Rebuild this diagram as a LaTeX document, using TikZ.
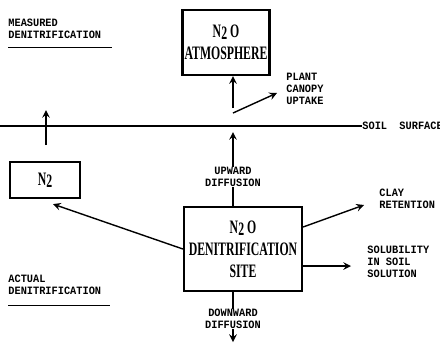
\documentclass[tikz,border=0pt]{standalone}
\usepackage{fontspec}
\setmainfont{Liberation Serif}
\newfontfamily\boxfont[FakeStretch=0.62]{Liberation Serif}
\newfontfamily\typefont[FakeStretch=0.92]{Liberation Mono}
\usetikzlibrary{arrows, positioning}

\begin{document}
\begin{tikzpicture}[
    x=0.5pt, y=-0.5pt,
    pool/.style={rectangle, draw=black, line width=1.1pt, align=center, inner sep=1pt,
        font=\boxfont\bfseries\fontsize{9.5}{11}\selectfont},
    tag/.style={align=left, inner sep=0pt, font=\typefont\bfseries\fontsize{5.6}{6}\selectfont},
    ctag/.style={tag, align=center},
    arrow/.style={line width=0.7pt,->,>=stealth},
    rule/.style={line width=0.8pt}
]
\useasboundingbox (0,0) rectangle (440,345);

% Nodes
\node (atmos) [pool, minimum width=41pt, minimum height=32.5pt] at (226,42.5) {N\raisebox{-1pt}{2}\ O\\ATMOSPHERE};
\node (site) [pool, minimum width=59pt, minimum height=42pt] at (243,249) {N\raisebox{-1pt}{2}\ O\\DENITRIFICATION\\SITE};
\node (ntwo) [pool, minimum width=35pt, minimum height=18pt] at (45,180) {N\raisebox{-1pt}{2}};

\node (measured) [tag, anchor=north west] at (8,19) {MEASURED\\DENITRIFICATION};
\node (actual) [tag, anchor=north west] at (8,275) {ACTUAL\\DENITRIFICATION};
\node (plant) [tag, anchor=north west] at (286,73) {PLANT\\CANOPY\\UPTAKE};
\node (soil) [tag, anchor=west] at (362,126) {SOIL\ \ SURFACE};
\node (clay) [tag, anchor=north west] at (379,189) {CLAY\\RETENTION};
\node (solub) [tag, anchor=north west] at (367,246) {SOLUBILITY\\IN SOIL\\SOLUTION};
\node (updiff) [ctag] at (233,177) {UPWARD\\DIFFUSION};
\node (downdiff) [ctag] at (233,319) {DOWNWARD\\DIFFUSION};

\coordinate (soilstart) at (0,126);
\coordinate (leftlow) at (46,145);
\coordinate (lefttop) at (46,110);
\coordinate (canopy) at (233,108);
\coordinate (canopytip) at (277,93);
\coordinate (uptip) at (233,132);
\coordinate (downtip) at (233,342);
\coordinate (claytip) at (364,205);
\coordinate (solubtip) at (351,266);

% Rules
\draw [rule] (soilstart) -- (soil.west);
\draw [rule] ([yshift=-4pt]measured.south west) -- ++(104,0);
\draw [rule] ([yshift=-5pt]actual.south west) -- ++(102,0);

% Arrows
\draw [arrow] (canopy) -- (atmos.south -| canopy);
\draw [arrow] ([yshift=-2.5pt]canopy) -- (canopytip);
\draw [arrow] (leftlow) -- (lefttop);
\draw [line width=0.7pt] (site.north -| uptip) -- (updiff.south);
\draw [arrow] (updiff.north) -- (uptip);
\draw [line width=0.7pt] (site.south -| downtip) -- (downdiff.north);
\draw [arrow] (downdiff.south) -- (downtip);
\draw [arrow] (site.west) -- ([xshift=4pt,yshift=-2.5pt]ntwo.south);
\draw [arrow] ([yshift=11pt]site.east) -- (claytip);
\draw [arrow] ([yshift=-8.5pt]site.east) -- (solubtip);

\end{tikzpicture}
\end{document}
